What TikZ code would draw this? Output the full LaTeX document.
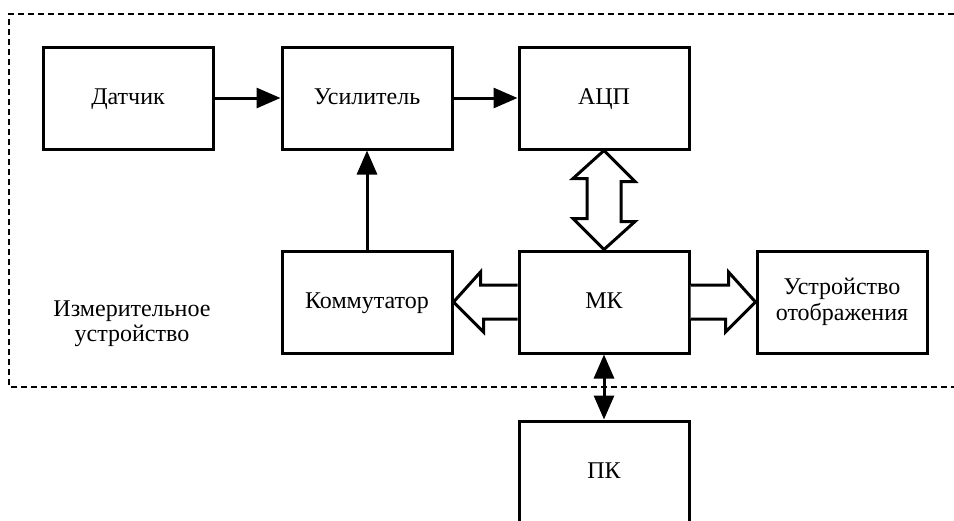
\documentclass[tikz,border=0pt]{standalone}
\usepackage{fontspec}
\setmainfont{Liberation Serif}
\usetikzlibrary{arrows.meta,calc}
\tikzset{
  box/.style={rectangle, draw, line width=1.5pt, minimum width=85pt, minimum height=51pt, align=center,
    text height=8.5pt, text depth=2.5pt, font=\fontsize{12}{13}\selectfont},
  link/.style={-{Triangle[length=12pt,width=10pt]}, line width=1.5pt},
  fat/.style={draw, fill=white, line width=1.5pt, line join=miter},
  frame/.style={line width=1pt, dash pattern=on 3pt off 2pt}
}
\begin{document}
\begin{tikzpicture}[x=0.5pt, y=-0.5pt]
  \useasboundingbox (0,0) rectangle (954,520);
  \clip (0,0) rectangle (954,520);
  % Dashed lines
  \draw[frame] (954,14) -- (9,14) -- (9,387) -- (954,387);
  % Nodes
  \node (sens) [box] at (128, 98) {Датчик};
  \node (amp) [box] at (367, 98) {Усилитель};
  \node (adc) [box] at (604, 98) {АЦП};
  \node (komm) [box] at (367, 302) {Коммутатор};
  \node (mk) [box] at (604, 302) {МК};
  \node (disp) [box, text height=, text depth=] at (842, 302) {Устройство\\отображения};
  \node (pc) [box] at (604, 472) {ПК};
  \node (title) [align=center, font=\fontsize{12}{12.5}\selectfont] at (132, 324) {Измерительное\\устройство};
  % Arrows
  \draw[link] (sens) -- (amp);
  \draw[link] (amp) -- (adc);
  \draw[link] (komm) -- (amp);
  \draw[link, {Triangle[length=12pt,width=10pt]}-{Triangle[length=12pt,width=10pt]}] (mk) -- (pc);
  % Wide arrows
  \draw[fat] (adc.south) -- ++(31,31) -- ++(-14,0) -- ++(0,40) -- ++(14,0) -- (mk.north)
    -- ++(-31,-31) -- ++(14,0) -- ++(0,-40) -- ++(-14,0) -- cycle;
  \draw[fat] ($(mk.west)+(0,-17)$) -- ++(-37,0) -- ++(0,-13) -- (komm.east) -- ++(30,30) -- ++(0,-13) -- ($(mk.west)+(0,17)$);
  \draw[fat] ($(mk.east)+(0,-17)$) -- ++(38,0) -- ++(0,-13) -- (disp.west) -- ++(-30,30) -- ++(0,-13) -- ($(mk.east)+(0,17)$);
\end{tikzpicture}
\end{document}
